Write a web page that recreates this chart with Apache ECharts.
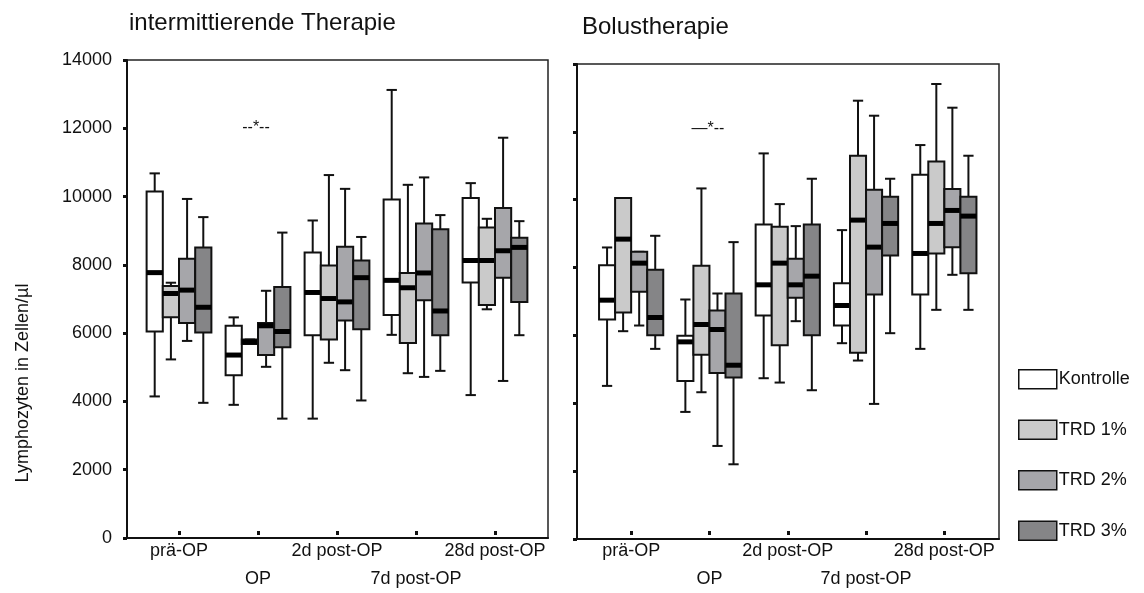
<!DOCTYPE html>
<html>
<head>
<meta charset="utf-8">
<script src="https://cdn.jsdelivr.net/npm/echarts@6/dist/echarts.min.js"></script>
<style>
  html, body { margin: 0; padding: 0; background: #fff; }
  #chart { width: 1144px; height: 593px; }
</style>
</head>
<body>
<div id="chart"></div>
<script>
// time points and groups
const categories = ['prä-OP', 'OP', '2d post-OP', '7d post-OP', '28d post-OP']
const groups = ['Kontrolle', 'TRD 1%', 'TRD 2%', 'TRD 3%']
const groupColors = ['#ffffff', '#cacaca', '#a6a6aa', '#858587']

// each row: [min, Q1, median, Q3, max] per time point
const intermKontrolle = [
  [4000, 5930, 7680, 10090, 10630],
  [3750, 4630, 5230, 6100, 6350],
  [3340, 5820, 7090, 8280, 9230],
  [5830, 6420, 7450, 9850, 13110],
  [4040, 7390, 8040, 9900, 10340],
]
const intermTrd1 = [
  [5100, 6350, 7060, 7280, 7380],
  [5560, 5560, 5620, 5690, 5690],
  [5000, 5690, 6910, 7890, 10580],
  [4690, 5590, 7230, 7670, 10290],
  [6590, 6720, 8040, 9020, 9280],
]
const intermTrd2 = [
  [5650, 6180, 7160, 8090, 9870],
  [4880, 5230, 6100, 6180, 7140],
  [4780, 6260, 6810, 8450, 10170],
  [4580, 6860, 7670, 9140, 10510],
  [4460, 7530, 8330, 9600, 11690],
]
const intermTrd3 = [
  [3810, 5900, 6650, 8430, 9330],
  [3340, 5460, 5930, 7250, 8870],
  [3880, 6000, 7530, 8040, 8740],
  [4760, 5820, 6540, 8970, 9390],
  [5820, 6810, 8430, 8720, 9210],
]

const bolusKontrolle = [
  [4350, 6340, 6920, 7970, 8500],
  [3570, 4500, 5670, 5850, 6940],
  [4580, 6460, 7380, 9190, 11320],
  [5630, 6160, 6760, 7430, 9020],
  [5460, 7090, 8320, 10680, 11570],
]
const bolusTrd1 = [
  [5990, 6550, 8750, 9980, 9980],
  [4160, 5280, 6190, 7950, 10270],
  [4450, 5570, 8030, 9120, 9800],
  [5110, 5340, 9320, 11250, 12900],
  [6630, 8320, 9220, 11080, 13400],
]
const bolusTrd2 = [
  [6160, 7170, 8030, 8370, 8370],
  [2550, 4740, 6040, 6610, 7120],
  [6290, 6990, 7380, 8160, 9140],
  [3810, 7090, 8510, 10230, 12450],
  [7680, 8510, 9610, 10250, 12690],
]
const bolusTrd3 = [
  [5460, 5870, 6400, 7830, 8850],
  [2000, 4600, 4970, 7120, 8660],
  [4220, 5870, 7640, 9190, 10560],
  [5930, 8260, 9220, 10020, 10560],
  [6630, 7730, 9440, 10020, 11250],
]

const yTicks = [0, 2000, 4000, 6000, 8000, 10000, 12000, 14000]

const intermData = [intermKontrolle, intermTrd1, intermTrd2, intermTrd3]
const bolusData = [bolusKontrolle, bolusTrd1, bolusTrd2, bolusTrd3]

const font = 'Liberation Sans, Arial, sans-serif'

const chart = echarts.init(document.getElementById('chart'))

const makeRender = (k) => (params, api) => {
  const x = api.value(0)
  const band = api.size([1, 0])[0]
  const w = band * 0.205
  const cx = api.coord([x, 0])[0] + (k - 1.5) * w
  const yMin = api.coord([x, api.value(1)])[1]
  const yQ1 = api.coord([x, api.value(2)])[1]
  const yMed = api.coord([x, api.value(3)])[1]
  const yQ3 = api.coord([x, api.value(4)])[1]
  const yMax = api.coord([x, api.value(5)])[1]
  const cap = w * 0.32
  const line = { stroke: '#111', lineWidth: 2 }
  return {
    type: 'group',
    children: [
      { type: 'line', shape: { x1: cx, y1: yMax, x2: cx, y2: yQ3 }, style: line },
      { type: 'line', shape: { x1: cx, y1: yQ1, x2: cx, y2: yMin }, style: line },
      { type: 'line', shape: { x1: cx - cap, y1: yMax, x2: cx + cap, y2: yMax }, style: line },
      { type: 'line', shape: { x1: cx - cap, y1: yMin, x2: cx + cap, y2: yMin }, style: line },
      {
        type: 'rect',
        shape: { x: cx - w / 2, y: yQ3, width: w, height: yQ1 - yQ3 },
        style: { fill: groupColors[k], stroke: '#111', lineWidth: 2 },
      },
      {
        type: 'rect',
        shape: { x: cx - w / 2, y: yMed - 2.5, width: w, height: 5 },
        style: { fill: '#000' },
      },
    ],
  }
}

const buildSeries = (panel, gridAxis) =>
  panel.map((rows, k) => ({
    type: 'custom',
    name: groups[k],
    xAxisIndex: gridAxis,
    yAxisIndex: gridAxis,
    itemStyle: { color: groupColors[k] },
    renderItem: makeRender(k),
    encode: { x: 0, y: [1, 2, 3, 4, 5] },
    data: rows.map((v, i) => [i, ...v]),
  }))

const frameY = (showLabels) => ({
  type: 'value',
  min: yTicks[0],
  max: yTicks[yTicks.length - 1],
  interval: 2000,
  axisLine: { show: true, lineStyle: { color: '#111', width: 2 } },
  axisTick: { show: true, length: 4, lineStyle: { color: '#111', width: 3 } },
  axisLabel: {
    show: showLabels,
    margin: 15,
    fontSize: 18,
    color: '#111',
    fontFamily: font,
    formatter: (v) => String(v),
  },
  splitLine: { show: false },
})

const frameX = {
  type: 'value',
  min: 0,
  max: 1,
  axisLine: { show: true, lineStyle: { color: '#111', width: 2 } },
  axisTick: { show: false },
  axisLabel: { show: false },
  splitLine: { show: false },
}

const boxX = {
  type: 'category',
  data: categories,
  axisLine: { show: false },
  axisTick: { show: true, alignWithLabel: true, length: 4, lineStyle: { color: '#111', width: 3 } },
  axisLabel: {
    interval: 0,
    margin: 6,
    fontSize: 18,
    lineHeight: 28,
    color: '#111',
    fontFamily: font,
    formatter: (v, i) => (i % 2 ? '\n' + v : v),
  },
}

const boxY = { type: 'value', min: 0, max: 14000, show: false }

const option = {
  backgroundColor: '#fff',
  animation: false,
  title: [
    {
      text: 'intermittierende Therapie',
      left: 124,
      top: 6,
      textStyle: { fontSize: 24, fontWeight: 'normal', color: '#111', fontFamily: font },
    },
    {
      text: 'Bolustherapie',
      left: 577,
      top: 10,
      textStyle: { fontSize: 24, fontWeight: 'normal', color: '#111', fontFamily: font },
    },
  ],
  grid: [
    { left: 127, top: 60, width: 421, height: 478, show: true, borderColor: '#222', borderWidth: 1.5 },
    { left: 139.5, top: 60, width: 395, height: 478 },
    { left: 577, top: 64, width: 422, height: 475, show: true, borderColor: '#222', borderWidth: 1.5 },
    { left: 592, top: 64, width: 391.5, height: 475 },
  ],
  xAxis: [
    { ...frameX, gridIndex: 0 },
    { ...boxX, gridIndex: 1 },
    { ...frameX, gridIndex: 2 },
    { ...boxX, gridIndex: 3 },
  ],
  yAxis: [
    { ...frameY(true), gridIndex: 0 },
    { ...boxY, gridIndex: 1 },
    { ...frameY(false), gridIndex: 2 },
    { ...boxY, gridIndex: 3 },
  ],
  legend: {
    orient: 'vertical',
    left: 1013,
    top: 364,
    icon: 'rect',
    itemWidth: 38,
    itemHeight: 19,
    itemGap: 30,
    selectedMode: false,
    textStyle: { fontSize: 18, color: '#111', fontFamily: font, padding: [0, 0, 0, -3] },
    itemStyle: { borderColor: '#111', borderWidth: 1.5 },
    data: groups.map((g, k) => ({ name: g, itemStyle: { color: groupColors[k] } })),
  },
  graphic: [
    {
      type: 'text',
      x: 23,
      y: 383,
      rotation: Math.PI / 2,
      style: {
        text: 'Lymphozyten in Zellen/µl',
        font: '18px ' + font,
        fill: '#111',
        textAlign: 'center',
        textVerticalAlign: 'middle',
      },
    },
    {
      type: 'text',
      x: 256,
      y: 128,
      style: { text: '--*--', font: '16px ' + font, fill: '#111', textAlign: 'center', textVerticalAlign: 'middle' },
    },
    {
      type: 'text',
      x: 708,
      y: 129,
      style: { text: '—*--', font: '16px ' + font, fill: '#111', textAlign: 'center', textVerticalAlign: 'middle' },
    },
  ],
  series: [...buildSeries(intermData, 1), ...buildSeries(bolusData, 3)],
}

chart.setOption(option)
</script>
</body>
</html>
